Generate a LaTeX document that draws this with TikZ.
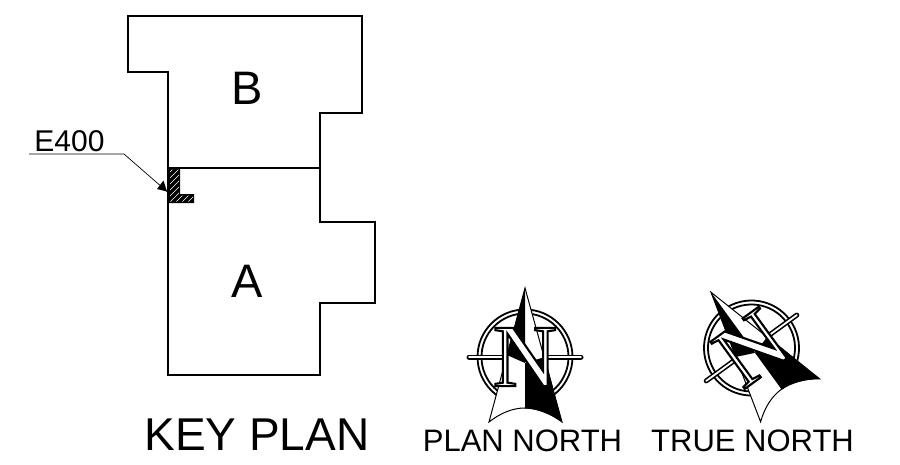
\documentclass[tikz,border=0pt]{standalone}
\usepackage{fontspec}
\setmainfont{Liberation Sans}
\newfontfamily\letterfont{Liberation Serif}
\tikzset{
  planline/.style={line width=1.3pt,line join=miter},
  leaderline/.style={line width=0.7pt},
  txt/.style={inner sep=0pt,anchor=center},
  compass/.pic={
    \draw[line width=1.8pt] (0,0) circle (47.5);
    \draw[line width=1.8pt] (0,0) circle (43.5);
    \draw[line width=5pt,line cap=round] (-56,0) -- (56,0);
    \draw[line width=1.8pt,white,line cap=round] (-56,0) -- (56,0);
    \fill[white] (0,-69) -- (-36,65) .. controls (-12,46.3) and (12,46.3) .. (37,65) -- cycle;
    \draw[line width=1pt,line join=miter] (0,-69) -- (-36,65) .. controls (-12,46.3) and (12,46.3) .. (37,65) -- cycle;
    \fill (0,-69) -- (-18,-2) -- (0,6) -- cycle;
    \fill (0,6) -- (0,51.5) .. controls (12,51.8) and (25,57) .. (37,65) -- (20,0) -- cycle;
    \node[txt,transform shape,font=\letterfont\fontsize{89}{89}\selectfont] (-pn) at (0,0)
      {\special{pdf:code q 2 Tr 2.1 w 1 g 0 G}N\special{pdf:code Q}};
  }
}
\begin{document}
\begin{tikzpicture}[x=1pt,y=-1pt]
\useasboundingbox (0,0) rectangle (900,464);
% outline
\draw[planline] (128,16) -- (362,16) -- (362,113) -- (320,113) -- (320,222) -- (375,222) -- (375,303) -- (320,303) -- (320,375) -- (168,375) -- (168,72) -- (128,72) -- cycle;
\draw[planline] (168,168) -- (320,168);
% wall
\fill (168,168) -- (180,168) -- (180,194) -- (194,194) -- (194,203) -- (168,203) -- cycle;
\begin{scope}
\clip (170,169.5) -- (179,169.5) -- (179,195.5) -- (193,195.5) -- (193,201.5) -- (170,201.5) -- cycle;
\foreach \k in {-40,-34,...,60} {
  \draw[white,line width=0.5pt] (160+\k,210) -- (160+\k+50,160);
}
\end{scope}
% leader
\coordinate (la) at (29,154);
\coordinate (lb) at (124,154);
\coordinate (lc) at (167,191.5);
\draw[leaderline] (la) -- (lb) -- (lc);
\fill (lc) -- (157,189) -- (163.5,180.5) -- cycle;
% labels
\node[txt,font=\fontsize{30}{30}\selectfont] (e400) at (69.5,141) {E400};
\node[txt,font=\fontsize{47}{47}\selectfont] (b) at (247,88) {B};
\node[txt,font=\fontsize{47}{47}\selectfont] (a) at (247,281) {A};
\node[txt,font=\fontsize{46}{46}\selectfont] (key) at (257,434.5) {KEY PLAN};
\node[txt,font=\fontsize{31}{31}\selectfont] (pnt) at (522.5,441) {PLAN NORTH};
\node[txt,font=\fontsize{31}{31}\selectfont] (tnt) at (752.5,441) {TRUE NORTH};
\pic (plan) at (525,357) {compass};
\pic[rotate=36] (true) at (751.5,348) {compass};
\end{tikzpicture}
\end{document}
